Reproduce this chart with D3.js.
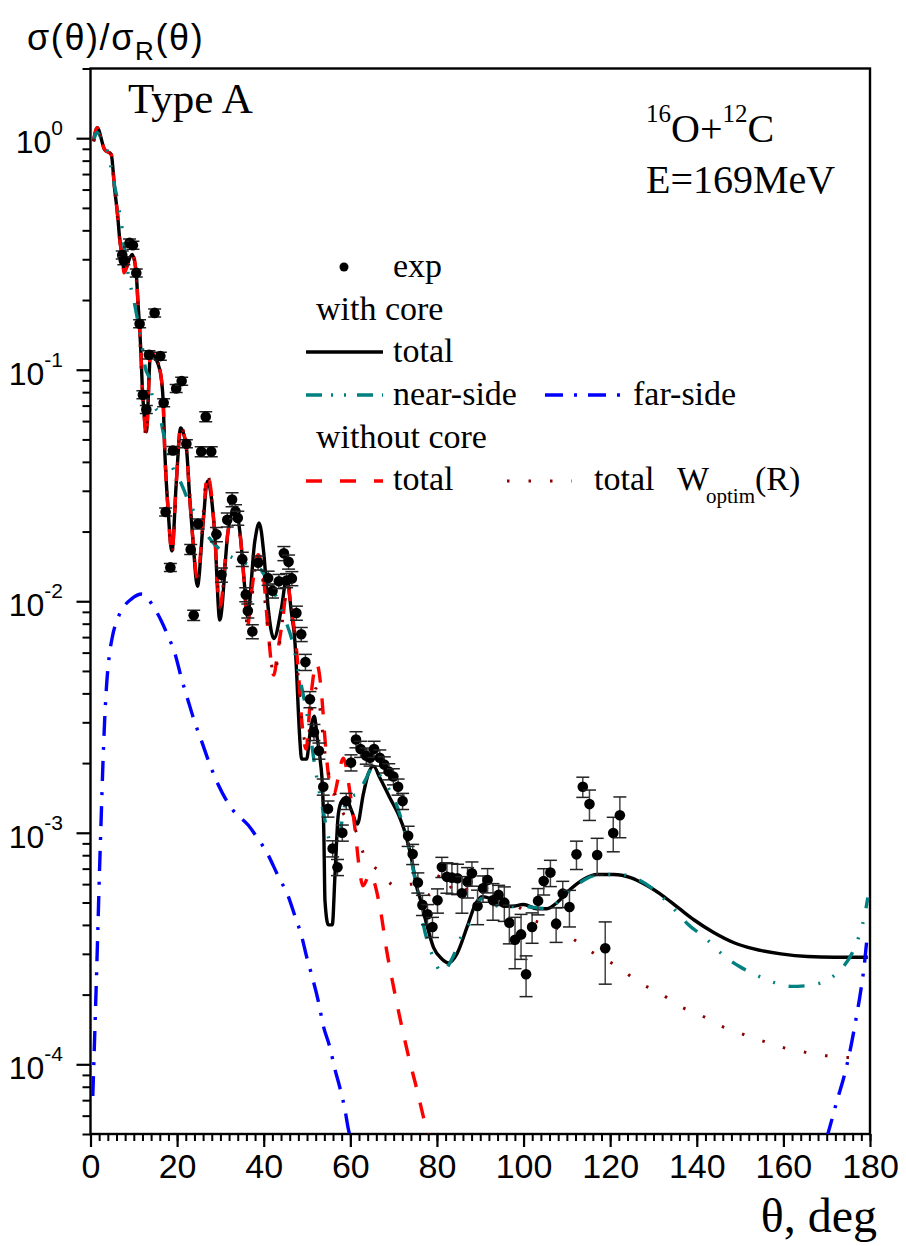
<!DOCTYPE html>
<html>
<head>
<meta charset="utf-8">
<script src="https://cdn.jsdelivr.net/npm/d3@7"></script>
<style>
  body { margin: 0; background: #fff; }
  svg { display: block; }
</style>
</head>
<body>
<svg width="906" height="1246"></svg>
<script>
const SERIF = "'Liberation Serif', 'Times New Roman', serif";
const SANS = "'Liberation Sans', Arial, sans-serif";
const NARROW = "'Liberation Sans Narrow', 'Arial Narrow', 'Liberation Sans', sans-serif";

// theta (deg), sigma/sigma_R
const totalWithCore = [
  [0.7,0.97],[1.55,1.11],[3.24,0.894],[4.79,0.85],[5.55,0.61],[6.32,0.453],[6.71,0.371],[7.47,0.294],
  [7.7,0.267],[9.65,0.315],[10.57,0.259],[10.94,0.198],[11.34,0.152],[11.73,0.109],[11.96,0.084],
  [12.33,0.066],[12.89,0.054],[13.88,0.118],[15.5,0.107],[16.43,0.089],[16.8,0.072],[17.12,0.046],
  [17.89,0.0253],[18.81,0.0165],[19.83,0.033],[20.82,0.056],[22.14,0.0459],[22.91,0.0279],[23.67,0.0182],
  [24.69,0.0116],[25.98,0.0215],[27.0,0.033],[27.93,0.0279],[28.69,0.0195],[29.85,0.0083],[31.77,0.0201],
  [33.32,0.0253],[34.47,0.0201],[35.63,0.0114],[36.21,0.0086],[37.95,0.0182],[38.94,0.0218],[40.03,0.016],
  [41.02,0.0094],[42.34,0.0069],[44.12,0.0094],[45.28,0.0126],[46.44,0.0088],[47.2,0.0067],[47.6,0.0049],
  [47.96,0.00346],[48.36,0.00249],[48.75,0.00208],[49.91,0.00208],[50.67,0.00267],[51.67,0.00319],
  [52.36,0.00257],[52.99,0.0021],[53.61,0.00152],[53.91,0.00093],[54.14,0.00051],[54.91,0.0004],
  [55.83,0.0004],[56.46,0.00066],[57.22,0.0012],[58.01,0.00137],[59.0,0.00141],[60.32,0.00124],
  [61.62,0.00109],[63.0,0.00147],[64.16,0.0018],[65.32,0.00194],[66.87,0.00172],[69.18,0.00141],
  [71.1,0.0012],[72.65,0.001],[74.2,0.00076],[75.36,0.00058],[76.12,0.00052],[77.67,0.0004],[79.2,0.00032],
  [81.14,0.000285],[82.67,0.000274],[84.61,0.0003],[86.93,0.00039],[88.85,0.00049],[90.4,0.00053],
  [92.32,0.00052],[94.63,0.00049],[96.95,0.00048],[100.0,0.00049],[103.1,0.00047],[105.4,0.00047],
  [107.75,0.0005],[110.8,0.00057],[113.9,0.00063],[117.0,0.00066],[120.85,0.00066],[124.7,0.00064],
  [128.6,0.00059],[132.4,0.00053],[136.0,0.00047],[139.4,0.00042],[144.0,0.00037],[148.6,0.000335],
  [153.2,0.000315],[159.4,0.0003],[165.6,0.000292],[171.75,0.00029],[179.5,0.00029]
];

const nearSide = [
  [0.69,0.97],[1.5,1.06],[2.78,0.97],[4.16,0.845],[5.21,0.672],[6.48,0.509],[7.29,0.409],[7.75,0.342],
  [9.02,0.241],[9.95,0.202],[10.57,0.176],[11.34,0.147],[12.1,0.12],[12.66,0.102],[13.77,0.0894],
  [14.41,0.0732],[15.04,0.0683],[15.96,0.0643],[16.73,0.0543],[17.82,0.0445],[19.04,0.0376],[20.99,0.0321],
  [22.91,0.0263],[24.83,0.0229],[26.77,0.0195],[28.0,0.0182],[31.24,0.016],[34.48,0.015],[37.95,0.014],
  [39.1,0.0138],[40.95,0.0122],[42.97,0.0104],[44.88,0.0084],[46.8,0.0065],[48.0,0.005],[50.32,0.003],
  [52.06,0.00181],[53.8,0.00122],[54.84,0.00098],[56.0,0.00083],[57.61,0.00101],[59.0,0.00137],
  [60.39,0.00144],[61.78,0.00148],[63.4,0.00168],[65.25,0.00192],[67.56,0.00168],[70.34,0.00137],
  [72.65,0.001],[74.97,0.00063],[77.28,0.00037],[79.13,0.00029],[81.14,0.00025],[83.46,0.000285],
  [85.49,0.000352],[87.69,0.00041],[90.4,0.00052],[94.63,0.00048],[99.95,0.00048],[105.44,0.00047],
  [110.83,0.00057],[117.77,0.00066],[122.4,0.00066],[126.33,0.00063],[130.5,0.00056],[134.66,0.00047],
  [137.83,0.000405],[142.05,0.00035],[146.7,0.00029],[149.77,0.000265],[154.33,0.00024],[158.66,0.000223],
  [161.74,0.000217],[165.9,0.000219],[170.6,0.000234],[173.7,0.000262],[176.3,0.000314],[177.9,0.00038],
  [178.7,0.000434],[179.5,0.000525]
];

const farSideForward = [
  [0.53,7.3e-5],[0.93,1.26e-4],[1.32,2.18e-4],[1.69,3.77e-4],[2.08,6.84e-4],[2.48,1.18e-3],[2.85,1.94e-3],
  [3.24,2.98e-3],[3.7,4.3e-3],[4.28,5.69e-3],[5.09,7.08e-3],[6.25,8.38e-3],[7.64,9.44e-3],[9.42,0.01022],
  [11.87,0.01074],[14.81,9.29e-3],[16.36,8.22e-3],[17.89,7.08e-3],[19.44,6.0e-3],[20.99,4.66e-3],
  [22.51,3.74e-3],[24.06,3.01e-3],[25.61,2.5e-3],[27.53,1.98e-3],[29.45,1.62e-3],[32.92,1.25e-3],
  [36.4,1.08e-3],[38.71,9.4e-4],[40.65,8.26e-4],[43.34,6.5e-4],[45.65,5.33e-4],[47.2,4.37e-4],
  [48.75,3.58e-4],[49.9,2.92e-4],[51.07,2.43e-4],[52.59,1.88e-4],[53.75,1.47e-4],[55.3,1.18e-4],
  [56.45,9.5e-5],[57.61,7.9e-5],[58.77,6.36e-5],[59.53,5.26e-5],[60.2,4.7e-5]
];

const farSideBackward = [
  [170.0,4.8e-5],[171.0,5.6e-5],[172.6,7.2e-5],[173.9,8.7e-5],[175.2,1.1e-4],[176.5,1.47e-4],
  [177.9,2.1e-4],[178.6,2.6e-4],[179.3,3.5e-4]
];

const totalNoCore = [
  [0.7,0.97],[1.55,1.11],[3.24,0.894],[4.79,0.85],[5.55,0.61],[6.32,0.453],[6.71,0.371],[7.47,0.294],
  [7.7,0.262],[9.65,0.32],[10.57,0.259],[10.94,0.198],[11.34,0.152],[11.73,0.109],[11.96,0.084],
  [12.33,0.066],[12.89,0.051],[13.88,0.12],[15.5,0.109],[16.43,0.089],[16.8,0.072],[17.12,0.046],
  [17.89,0.0253],[18.81,0.0162],[19.83,0.033],[20.82,0.057],[22.14,0.0459],[22.91,0.0279],[23.67,0.0182],
  [24.69,0.0126],[25.98,0.022],[27.0,0.0354],[27.93,0.029],[28.69,0.0195],[29.85,0.0094],[31.77,0.0201],
  [33.32,0.0253],[34.47,0.0201],[35.63,0.011],[36.21,0.0077],[37.2,0.011],[38.7,0.0159],[40.0,0.0125],
  [41.0,0.0075],[42.3,0.0048],[43.3,0.0062],[44.4,0.0084],[45.5,0.0119],[46.3,0.0095],[47.2,0.0072],
  [48.0,0.005],[48.75,0.0031],[49.8,0.0023],[50.6,0.0034],[52.2,0.0054],[53.4,0.0039],[54.1,0.0026],
  [54.9,0.0018],[56.1,0.00147],[58.4,0.0021],[59.9,0.0015],[61.1,0.00103],[62.0,0.00072],[62.9,0.00059],
  [64.5,0.00066],[66.9,0.00047],[68.4,0.000309],[70.0,0.000215],[71.8,0.000148],[73.5,0.000107],
  [75.0,8.3e-5],[76.9,5.9e-5],[78.0,4.9e-5]
];

const totalWoptim = [
  [0.7,0.97],[1.55,1.11],[3.24,0.894],[4.79,0.85],[5.55,0.61],[6.71,0.371],[7.7,0.262],[9.65,0.32],
  [10.94,0.198],[11.96,0.084],[12.89,0.051],[13.88,0.12],[15.5,0.109],[16.43,0.089],[17.12,0.046],
  [18.81,0.0162],[20.82,0.057],[22.14,0.0459],[23.67,0.0182],[24.69,0.0126],[27.0,0.0354],[28.69,0.0195],
  [29.85,0.0094],[31.77,0.0201],[33.32,0.0253],[35.63,0.011],[36.21,0.0077],[38.7,0.0159],[41.0,0.0075],
  [42.3,0.0048],[44.4,0.0084],[45.5,0.0119],[47.2,0.0072],[48.75,0.0031],[49.8,0.0024],[52.0,0.0042],
  [54.5,0.002],[57.6,0.0013],[61.85,0.00096],[63.4,0.00078],[66.9,0.00068],[70.3,0.00059],[74.6,0.0006],
  [78.3,0.00054],[81.1,0.00067],[84.6,0.00054],[88.9,0.0006],[93.1,0.0005],[97.7,0.00049],[102.3,0.00042],
  [107.4,0.00039],[112.2,0.00034],[117.0,0.000295],[121.8,0.000264],[126.6,0.000226],[131.5,0.000203],
  [136.1,0.000178],[140.9,0.000163],[145.7,0.000146],[150.6,0.000135],[155.3,0.000126],[160.0,0.000118],
  [164.8,0.000113],[169.7,0.000109],[174.5,0.000107],[179.3,0.000107]
];

// theta, value, relative error
const expPoints = [
  [7.33,0.313,0.04],[7.7,0.296,0.04],[9.02,0.353,0.04],[9.79,0.345,0.04],[10.57,0.262,0.04],
  [11.34,0.158,0.04],[12.1,0.078,0.04],[12.89,0.0674,0.04],[13.49,0.116,0.04],[14.81,0.176,0.04],
  [16.13,0.1145,0.04],[16.89,0.072,0.04],[17.35,0.0243,0.04],[18.44,0.014,0.04],[19.04,0.0448,0.04],
  [19.78,0.083,0.04],[21.05,0.0893,0.04],[22.14,0.0479,0.04],[23.14,0.01675,0.05],[23.83,0.0087,0.05],
  [24.83,0.0216,0.05],[25.57,0.0443,0.05],[26.61,0.0627,0.05],[27.88,0.0443,0.05],[29.08,0.01945,0.07],
  [30.24,0.013,0.07],[31.58,0.0225,0.07],[32.69,0.0275,0.07],[33.48,0.0244,0.07],[34.01,0.0229,0.07],
  [35.05,0.0152,0.07],[35.86,0.0107,0.07],[36.33,0.0091,0.07],[37.37,0.0074,0.07],[38.71,0.01466,0.07],
  [41.02,0.0126,0.07],[42.04,0.0111,0.07],[43.5,0.0122,0.07],[44.66,0.0161,0.07],[45.74,0.0148,0.07],
  [45.28,0.0123,0.07],[46.5,0.01255,0.07],[47.55,0.0089,0.07],[48.66,0.0072,0.07],[49.63,0.00546,0.08],
  [50.67,0.00377,0.08],[51.6,0.00272,0.08],[52.75,0.00226,0.08],[53.75,0.00158,0.08],[54.84,0.00127,0.08],
  [55.92,0.000855,0.08],[57.03,0.00071,0.08],[58.15,0.001,0.08],[59.05,0.00137,0.08],[60.16,0.00201,0.08],
  [61.31,0.00253,0.08],[62.36,0.0023,0.08],[63.68,0.00215,0.08],[64.55,0.00211,0.08],[65.48,0.0023,0.08],
  [66.8,0.00211,0.08],[67.84,0.00197,0.08],[68.88,0.00184,0.08],[69.94,0.00175,0.08],[71.03,0.00158,0.08],
  [72.07,0.00137,0.08],[73.35,0.00097,0.1],[74.39,0.00081,0.1],[75.59,0.00061,0.1],[76.65,0.000488,0.1],
  [77.81,0.000445,0.1],[78.97,0.000392,0.1],[80.13,0.000511,0.12],[81.14,0.000712,0.1],[82.3,0.000645,0.15],
  [83.46,0.00064,0.15],[84.75,0.000636,0.15],[85.77,0.000548,0.18],[87.07,0.000615,0.15],[88.08,0.000668,0.12],
  [89.38,0.000483,0.17],[90.63,0.000576,0.13],[91.69,0.000625,0.12],[92.94,0.000511,0.18],[94.24,0.000539,0.1],
  [95.56,0.000499,0.17],[96.72,0.000409,0.19],[98.03,0.000345,0.25],[99.42,0.000364,0.22],[100.58,0.000245,0.2],
  [101.97,0.000392,0.15],[103.35,0.000508,0.13],[104.65,0.000619,0.13],[106.2,0.000673,0.13],
  [107.52,0.000405,0.17],[109.05,0.000546,0.13],[110.6,0.000478,0.18],[112.22,0.000807,0.14],
  [113.68,0.00158,0.1],[115.22,0.00133,0.15],[117.0,0.000802,0.18],[118.86,0.000317,0.3],
  [120.71,0.000997,0.17],[122.24,0.00119,0.2]
];

const xTickLabels = [0, 20, 40, 60, 80, 100, 120, 140, 160, 180];
const yTickExponents = [0, -1, -2, -3, -4];

const svg = d3.select("svg");

const x = d3.scaleLinear().domain([0, 180]).range([90.5, 870]);
const y = d3.scaleLog().domain([5e-5, 2]).range([1134, 68.5]);

svg.append("defs").append("clipPath").attr("id", "plotclip")
  .append("rect")
    .attr("x", x(0)).attr("y", y(2))
    .attr("width", x(180) - x(0)).attr("height", y(5e-5) - y(2));

// axes
const minorX = d3.range(0, 181, 2);
svg.append("g")
    .attr("transform", `translate(0,${y(5e-5)})`)
    .call(d3.axisBottom(x).tickValues(minorX).tickSize(7).tickFormat(""))
    .call(g => g.select(".domain").remove())
    .call(g => g.selectAll("line").attr("stroke-width", 2));

svg.append("g")
    .attr("transform", `translate(0,${y(5e-5)})`)
    .call(d3.axisBottom(x).tickValues(xTickLabels).tickSize(13).tickFormat(d3.format("d")))
    .call(g => g.select(".domain").remove())
    .call(g => g.selectAll("line").attr("stroke-width", 2.2))
    .call(g => g.selectAll("text")
        .attr("font-family", NARROW)
        .attr("font-size", 34)
        .attr("y", 44)
        .attr("dy", null)
        .attr("fill", "#000"));

const minorY = [];
for (let k = -5; k <= 0; k++) {
  for (let m = 2; m <= 9; m++) {
    const v = m * Math.pow(10, k);
    if (v >= 5e-5 && v <= 2) minorY.push(v);
  }
}
svg.append("g")
    .attr("transform", `translate(${x(0)},0)`)
    .call(d3.axisLeft(y).tickValues(minorY).tickSize(8).tickFormat(""))
    .call(g => g.select(".domain").remove())
    .call(g => g.selectAll("line").attr("stroke-width", 2));

const yMajor = svg.append("g")
    .attr("transform", `translate(${x(0)},0)`)
    .call(d3.axisLeft(y).tickValues(yTickExponents.map(e => Math.pow(10, e))).tickSize(14).tickFormat(""))
    .call(g => g.select(".domain").remove())
    .call(g => g.selectAll("line").attr("stroke-width", 2.2));

yMajor.selectAll(".tick").each(function(d, i) {
  const t = d3.select(this).append("text")
      .attr("font-family", SANS)
      .attr("x", 63 - x(0))
      .attr("y", 14.5)
      .attr("text-anchor", "end")
      .attr("fill", "#000");
  t.append("tspan").attr("font-size", 32).text("10");
  t.append("tspan").attr("font-size", 21).attr("dy", -18)
    .text(yTickExponents[i] === 0 ? "0" : "-" + Math.abs(yTickExponents[i]));
});

// frame
svg.append("rect")
    .attr("x", x(0)).attr("y", y(2))
    .attr("width", x(180) - x(0)).attr("height", y(5e-5) - y(2))
    .attr("fill", "none").attr("stroke", "#000").attr("stroke-width", 2.4);

// curves
const line = d3.line()
    .x(d => x(d[0]))
    .y(d => y(d[1]))
    .curve(d3.curveMonotoneX);

const plot = svg.append("g").attr("clip-path", "url(#plotclip)");

const curves = [
  {data: totalWithCore, color: "#000000", width: 3.4, dash: null},
  {data: farSideForward, color: "#0000ff", width: 3.4, dash: "20,11,3,11"},
  {data: farSideBackward, color: "#0000ff", width: 3.4, dash: "20,11,3,11"},
  {data: totalNoCore, color: "#ff0000", width: 3.4, dash: "16,16"},
  {data: nearSide, color: "#008080", width: 3.4, dash: "16,14,2,14,2,14"},
  {data: totalWoptim, color: "#8b0000", width: 3, dash: "2.5,19"}
];

plot.selectAll("path.curve")
  .data(curves)
  .enter().append("path")
    .attr("class", "curve")
    .attr("d", d => line(d.data))
    .attr("fill", "none")
    .attr("stroke", d => d.color)
    .attr("stroke-width", d => d.width)
    .attr("stroke-dasharray", d => d.dash);

// experimental points with error bars
const pts = plot.selectAll("g.exp")
  .data(expPoints)
  .enter().append("g")
    .attr("class", "exp");

pts.append("line")
    .attr("x1", d => x(d[0])).attr("x2", d => x(d[0]))
    .attr("y1", d => y(d[1] * (1 + d[2]))).attr("y2", d => y(d[1] * (1 - d[2])))
    .attr("stroke", "#444").attr("stroke-width", 1.5);
pts.append("line")
    .attr("x1", d => x(d[0]) - 6.5).attr("x2", d => x(d[0]) + 6.5)
    .attr("y1", d => y(d[1] * (1 + d[2]))).attr("y2", d => y(d[1] * (1 + d[2])))
    .attr("stroke", "#222").attr("stroke-width", 1.5);
pts.append("line")
    .attr("x1", d => x(d[0]) - 6.5).attr("x2", d => x(d[0]) + 6.5)
    .attr("y1", d => y(d[1] * (1 - d[2]))).attr("y2", d => y(d[1] * (1 - d[2])))
    .attr("stroke", "#222").attr("stroke-width", 1.5);
pts.append("circle")
    .attr("cx", d => x(d[0])).attr("cy", d => y(d[1]))
    .attr("r", 5.3)
    .attr("fill", "#000");

// titles
const ylab = svg.append("text").attr("font-family", SANS).attr("x", 27).attr("y", 50)
    .attr("font-size", 36).attr("letter-spacing", 1.6).attr("fill", "#000");
ylab.append("tspan").text("σ(θ)/σ");
ylab.append("tspan").attr("font-size", 26).attr("dy", 10).text("R");
ylab.append("tspan").attr("dy", -10).text("(θ)");

svg.append("text").attr("font-family", SERIF).attr("x", 128).attr("y", 113)
    .attr("font-size", 43).text("Type A");

const reac = svg.append("text").attr("font-family", SERIF).attr("x", 646).attr("y", 142).attr("font-size", 40);
reac.append("tspan").attr("font-size", 25).attr("dy", -20).text("16");
reac.append("tspan").attr("dy", 20).text("O+");
reac.append("tspan").attr("font-size", 25).attr("dy", -20).text("12");
reac.append("tspan").attr("dy", 20).text("C");

svg.append("text").attr("font-family", SERIF).attr("x", 646).attr("y", 193)
    .attr("font-size", 40).text("E=169MeV");

svg.append("text").attr("font-family", SERIF).attr("x", 877).attr("y", 1232)
    .attr("text-anchor", "end").attr("font-size", 48).text("θ, deg");

// legend
const legend = svg.append("g").attr("class", "legend");
legend.append("circle").attr("cx", 344).attr("cy", 267).attr("r", 4.5).attr("fill", "#000");

const legendText = [
  {x: 393, y: 277, t: "exp"},
  {x: 316, y: 320, t: "with core"},
  {x: 393, y: 362, t: "total"},
  {x: 393, y: 405, t: "near-side"},
  {x: 633, y: 405, t: "far-side"},
  {x: 316, y: 448, t: "without core"},
  {x: 393, y: 490, t: "total"},
  {x: 594, y: 490, t: "total"},
  {x: 677, y: 490, t: "W"}
];
legend.selectAll("text.lt")
  .data(legendText)
  .enter().append("text")
    .attr("class", "lt")
    .attr("font-family", SERIF)
    .attr("x", d => d.x).attr("y", d => d.y)
    .attr("font-size", 34)
    .text(d => d.t);
legend.append("text").attr("font-family", SERIF).attr("x", 706).attr("y", 503)
    .attr("font-size", 21).text("optim");
legend.append("text").attr("font-family", SERIF).attr("x", 755).attr("y", 490)
    .attr("font-size", 34).text("(R)");

const legendLines = [
  {x1: 306, x2: 383, y: 352, color: "#000000", width: 3.4, dash: null},
  {x1: 306, x2: 383, y: 395, color: "#008080", width: 3.4, dash: "16,9,2,11,2,11"},
  {x1: 545, x2: 620, y: 395, color: "#0000ff", width: 3.4, dash: "18,11,3,11"},
  {x1: 306, x2: 383, y: 481, color: "#ff0000", width: 3.4, dash: "16,18"},
  {x1: 507, x2: 572, y: 481, color: "#8b0000", width: 3, dash: "2.5,19"}
];
legend.selectAll("line")
  .data(legendLines)
  .enter().append("line")
    .attr("x1", d => d.x1).attr("x2", d => d.x2)
    .attr("y1", d => d.y).attr("y2", d => d.y)
    .attr("stroke", d => d.color)
    .attr("stroke-width", d => d.width)
    .attr("stroke-dasharray", d => d.dash);
</script>
</body>
</html>
